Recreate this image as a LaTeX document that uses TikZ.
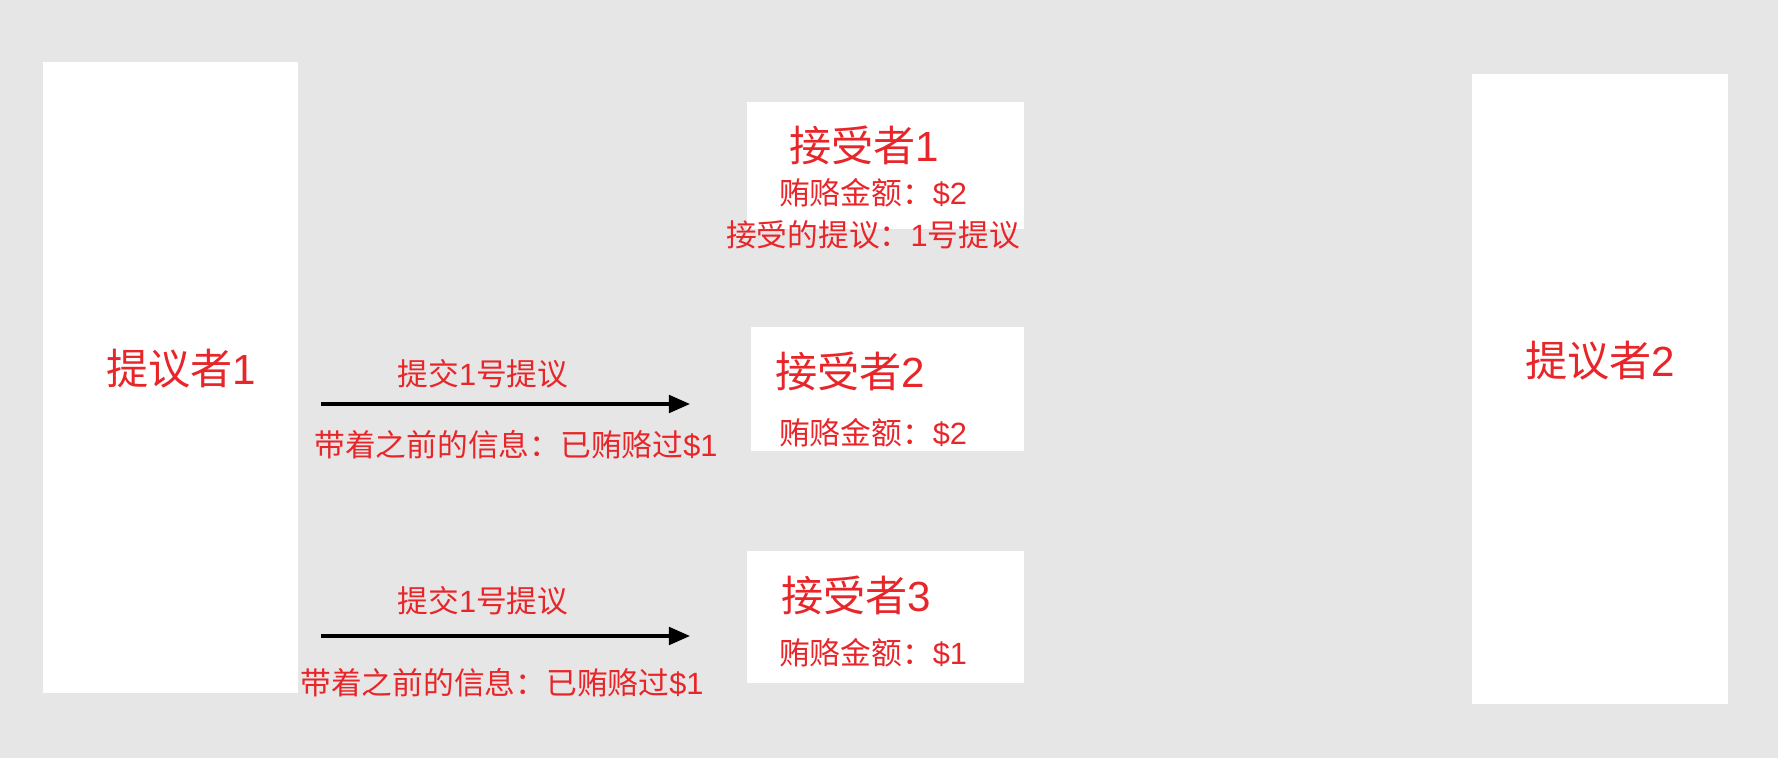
\documentclass[tikz,border=0pt]{standalone}
\usepackage{fontspec}
\setmainfont{Noto Sans CJK SC}
\newfontfamily\latinfont{Liberation Sans}
\newcommand{\lt}[1]{{\latinfont #1}}
\usetikzlibrary{arrows.meta}
\definecolor{lbl}{RGB}{232,38,42}
\definecolor{bg}{RGB}{230,230,230}

\begin{document}
\begin{tikzpicture}[x=0.02cm, y=-0.02cm, >={Triangle[length=12pt, width=10pt]}]
	\tikzset{
		box/.style={fill=white, draw=none, inner sep=0pt},
		big/.style={text=lbl, inner sep=0pt, font=\fontsize{24}{28}\selectfont},
		small/.style={text=lbl, inner sep=0pt, font=\fontsize{17.5}{20}\selectfont},
		msg/.style={->, line width=1.9pt, black}}
	% background
	\fill[bg] (0,0) rectangle (1778,758);
	\useasboundingbox (0,0) rectangle (1778,758);
	%%% proposers
	\node[box, minimum width=5.1cm, minimum height=12.62cm] (P1) at (170.5,377.5) {};
	\node[big] (P1t) at (181,369) {提议者\lt{1}};
	\node[box, minimum width=5.12cm, minimum height=12.6cm] (P2) at (1600,389) {};
	\node[big] (P2t) at (1600,361) {提议者\lt{2}};
	%%% acceptors
	\node[box, minimum width=5.54cm, minimum height=2.54cm] (A1) at (885.5,165.5) {};
	\node[big] (A1t) at (864,145) {接受者\lt{1}};
	\node[small] (A1a) at (873,193) {贿赂金额：\lt{\$2}};
	\node[small] (A1b) at (873,235) {接受的提议：\lt{1}号提议};
	\node[box, minimum width=5.46cm, minimum height=2.48cm] (A2) at (887.5,389) {};
	\node[big] (A2t) at (850,371) {接受者\lt{2}};
	\node[small] (A2a) at (873,433) {贿赂金额：\lt{\$2}};
	\node[box, minimum width=5.54cm, minimum height=2.64cm] (A3) at (885.5,617) {};
	\node[big] (A3t) at (856,595) {接受者\lt{3}};
	\node[small] (A3a) at (873,653) {贿赂金额：\lt{\$1}};
	%%% messages
	\coordinate (m1s) at (321,404);
	\coordinate (m1e) at (690,404);
	\coordinate (m2s) at (321,636);
	\coordinate (m2e) at (690,636);
	\draw[msg] (m1s) -- (m1e);
	\node[small] (m1a) at (483,374) {提交\lt{1}号提议};
	\node[small] (m1b) at (516,445) {带着之前的信息：已贿赂过\lt{\$1}};
	\draw[msg] (m2s) -- (m2e);
	\node[small] (m2a) at (483,601) {提交\lt{1}号提议};
	\node[small] (m2b) at (502,683) {带着之前的信息：已贿赂过\lt{\$1}};
\end{tikzpicture}
\end{document}
